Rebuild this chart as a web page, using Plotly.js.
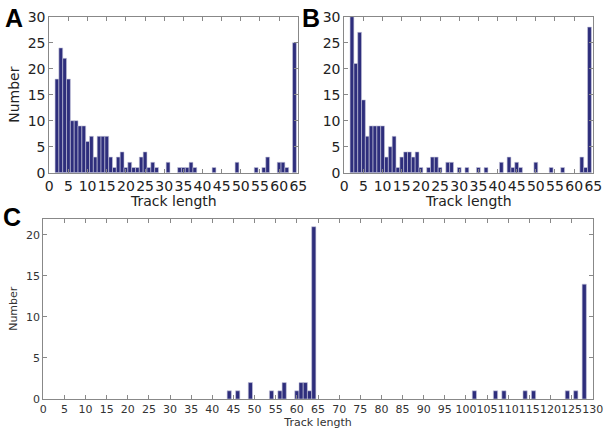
<!DOCTYPE html>
<html>
<head>
<meta charset="utf-8">
<script src="https://cdn.plot.ly/plotly-3.0.1.min.js"></script>
<style>html,body{margin:0;padding:0;background:#fff}#chart{width:606px;height:432px}</style>
</head>
<body>
<div id="chart"></div>
<script>
// Panel A: track length histogram
const lenA = [2,3,4,5,6,7,8,9,10,11,12,13,14,15,16,17,18,19,20,21,22,23,24,25,26,27,28,31,34,35,36,37,38,43,49,54,56,57,60,61,62,64];
const numA = [18,24,22,18,10,10,9,9,6,7,3,7,7,7,3,1,3,4,1,2,1,1,3,4,1,2,1,2,1,1,1,2,1,1,2,1,1,3,2,2,1,25];
// Panel B
const lenB = [2,3,4,5,6,7,8,9,10,11,12,13,14,15,16,17,18,19,20,22,23,24,25,27,28,30,32,35,37,41,43,44,45,46,50,54,57,62,63,64];
const numB = [30,21,27,14,7,9,9,9,9,3,5,7,1,3,4,4,3,4,1,1,3,3,1,2,2,1,1,1,1,2,3,1,2,1,2,1,1,3,1,28];
// Panel C
const lenC = [44,46,49,54,56,57,60,61,62,63,64,102,107,109,114,116,124,126,128];
const numC = [1,1,2,1,1,2,1,2,2,1,21,1,1,1,1,1,1,1,14];

const ticksAB = [0,5,10,15,20,25,30,35,40,45,50,55,60,65];
const ticksYAB = [0,5,10,15,20,25,30];
const ticksC = [0,5,10,15,20,25,30,35,40,45,50,55,60,65,70,75,80,85,90,95,100,105,110,115,120,125,130];
const ticksYC = [0,5,10,15,20];

const W = 606, H = 432;
const barColor = '#2e2e7c';
const barLine = {color: '#c8c8dc', width: 0.6};

function bar(x, y, xa, ya) {
  return {type: 'bar', x: x, y: y, width: 1, xaxis: xa, yaxis: ya,
          marker: {color: barColor, line: barLine}, hoverinfo: 'skip', showlegend: false};
}

const fontBig = {family: 'DejaVu Sans, sans-serif', size: 14, color: '#222'};
const fontSmall = {family: 'DejaVu Sans, sans-serif', size: 11, color: '#333'};

function xAx(domL, domR, range, tv, font, title, standoff) {
  return {domain: [domL / W, domR / W], range: range, tickmode: 'array', tickvals: tv, tickangle: 0,
          ticks: 'inside', ticklen: 4, tickcolor: '#888', showline: true, linecolor: '#888', linewidth: 1,
          mirror: 'ticks', showgrid: false, zeroline: false, tickfont: font, fixedrange: true,
          title: {text: title, font: font, standoff: standoff}};
}
function yAx(domB, domT, range, tv, font, title, standoff, anchor) {
  return {domain: [1 - domB / H, 1 - domT / H], range: range, tickmode: 'array', tickvals: tv,
          ticks: 'inside', ticklen: 4, tickcolor: '#888', showline: true, linecolor: '#888', linewidth: 1,
          mirror: 'ticks', showgrid: false, zeroline: false, tickfont: font, fixedrange: true,
          anchor: anchor, title: {text: title, font: font, standoff: standoff}};
}

const data = [
  bar(lenA, numA, 'x', 'y'),
  bar(lenB, numB, 'x2', 'y2'),
  bar(lenC, numC, 'x3', 'y3')
];

const layout = {
  width: W, height: H,
  margin: {l: 0, r: 0, t: 0, b: 0},
  paper_bgcolor: '#fff', plot_bgcolor: '#fff',
  bargap: 0,
  xaxis: Object.assign(xAx(49.3, 298.3, [0, 65], ticksAB, fontBig, 'Track length', 1), {anchor: 'y'}),
  yaxis: yAx(172.7, 16.7, [0, 30], ticksYAB, fontBig, 'Number', 4, 'x'),
  xaxis2: Object.assign(xAx(344.3, 593.3, [0, 65], ticksAB, fontBig, 'Track length', 1), {anchor: 'y2'}),
  yaxis2: yAx(172.7, 16.7, [0, 30], ticksYAB, fontBig, '', 4, 'x2'),
  xaxis3: Object.assign(xAx(43.3, 592.7, [0, 130], ticksC, fontSmall, 'Track length', 0), {anchor: 'y3'}),
  yaxis3: yAx(399, 218.5, [0, 22], ticksYC, fontSmall, 'Number', 6, 'x3'),
  annotations: [
    {text: '<b>A</b>', x: 3 / W, y: 1 - 2 / H, xref: 'paper', yref: 'paper', xanchor: 'left', yanchor: 'top', showarrow: false,
     font: {family: 'Liberation Sans, Arial, sans-serif', size: 25, color: '#000'}},
    {text: '<b>B</b>', x: 300 / W, y: 1 - 2 / H, xref: 'paper', yref: 'paper', xanchor: 'left', yanchor: 'top', showarrow: false,
     font: {family: 'Liberation Sans, Arial, sans-serif', size: 25, color: '#000'}},
    {text: '<b>C</b>', x: 1 / W, y: 1 - 201 / H, xref: 'paper', yref: 'paper', xanchor: 'left', yanchor: 'top', showarrow: false,
     font: {family: 'Liberation Sans, Arial, sans-serif', size: 25, color: '#000'}}
  ]
};

Plotly.newPlot('chart', data, layout, {displayModeBar: false, staticPlot: true});
</script>
</body>
</html>
